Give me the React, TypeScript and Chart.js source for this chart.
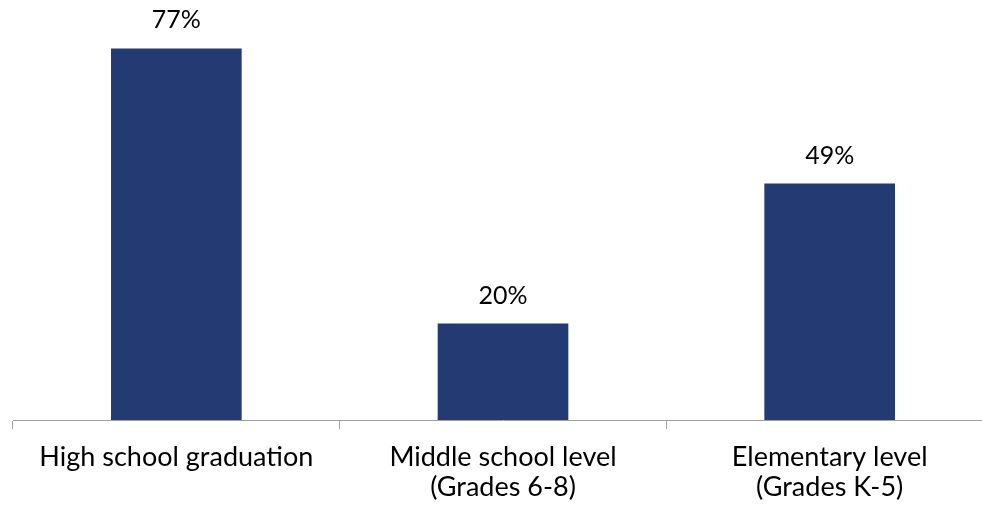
import React, { useEffect, useRef } from "react";
import { Chart, registerables } from "chart.js";

Chart.register(...registerables);

const categories: string[][] = [
  ["High school graduation"],
  ["Middle school level", "(Grades 6-8)"],
  ["Elementary level", "(Grades K-5)"],
];
const values: number[] = [77, 20, 49];
const valueLabels: string[] = ["77%", "20%", "49%"];

const BAR_COLOR = "#243a73";
const AXIS_COLOR = "#a0a0a0";
const FONT = "Lato, 'Open Sans', sans-serif";

// Percent labels drawn above each bar
const valueLabelPlugin = {
  id: "valueLabels",
  afterDatasetsDraw(chart: any) {
    const { ctx } = chart;
    const meta = chart.getDatasetMeta(0);
    ctx.save();
    ctx.fillStyle = "#000";
    ctx.font = `25px ${FONT}`;
    ctx.textAlign = "center";
    ctx.textBaseline = "alphabetic";
    meta.data.forEach((bar: any, i: number) => {
      ctx.fillText(valueLabels[i], bar.x, bar.y - 20);
    });
    ctx.restore();
  },
};

export default function App() {
  const ref = useRef<HTMLCanvasElement>(null);

  useEffect(() => {
    if (!ref.current) return;
    const chart = new Chart(ref.current, {
      type: "bar",
      data: {
        labels: categories,
        datasets: [
          {
            data: values,
            backgroundColor: BAR_COLOR,
            borderWidth: 0,
            categoryPercentage: 1,
            barPercentage: 0.4,
          },
        ],
      },
      options: {
        animation: false,
        responsive: false,
        layout: { padding: { top: 34, left: 13, right: 7, bottom: 0 } },
        plugins: {
          legend: { display: false },
          tooltip: { enabled: false },
        },
        scales: {
          y: {
            display: false,
            min: 0,
            max: 80,
          },
          x: {
            afterFit(scale: any) {
              scale.height = 90;
            },
            border: { display: true, color: AXIS_COLOR, width: 1 },
            grid: {
              display: true,
              offset: true,
              drawOnChartArea: false,
              drawTicks: true,
              tickLength: 9,
              tickColor: AXIS_COLOR,
            },
            ticks: {
              color: "#000",
              padding: 13,
              maxRotation: 0,
              autoSkip: false,
              font: { family: FONT, size: 27, lineHeight: 30 / 27 },
            },
          },
        },
      },
      plugins: [valueLabelPlugin],
    });
    return () => chart.destroy();
  }, []);

  return (
    <div
      style={{
        position: "fixed",
        left: 0,
        top: 0,
        width: 982,
        height: 510,
        overflow: "hidden",
        background: "#fff",
      }}
    >
      <canvas ref={ref} width={1000} height={510} style={{ display: "block" }} />
    </div>
  );
}
